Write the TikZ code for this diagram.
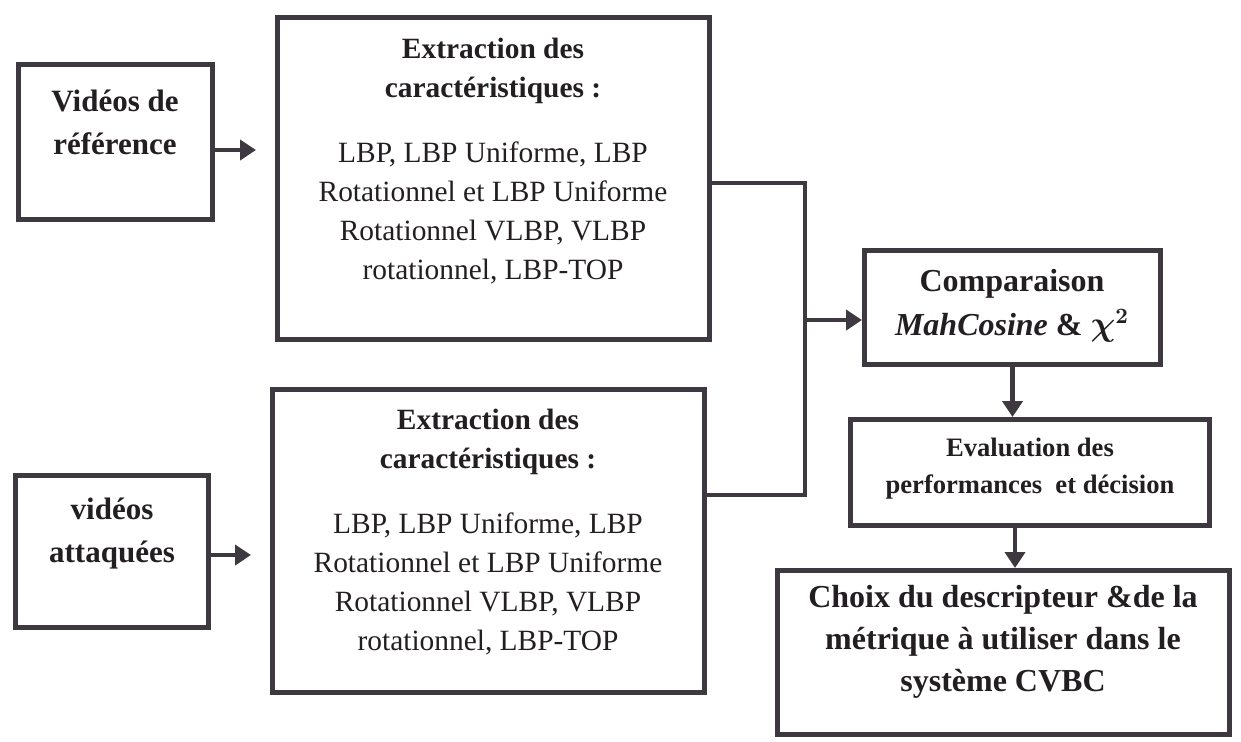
\documentclass[tikz,border=0pt]{standalone}
\usepackage{fontspec}
\setmainfont{Liberation Serif}
\usetikzlibrary{arrows.meta}
\definecolor{ink}{RGB}{62,56,64}
\definecolor{txt}{RGB}{35,30,33}
\begin{document}
\begin{tikzpicture}[x=0.5pt,y=-0.5pt,
  box/.style={draw=ink,line width=2.5pt,inner sep=0pt,fill=white},
  conn/.style={draw=ink,line width=2.3pt,line join=miter},
  arr/.style={conn,-{Triangle[length=8pt,width=10pt]}},
  lbl/.style={align=center,text=txt,inner sep=0pt}]
\fill[white] (0,0) rectangle (1241,741);
\useasboundingbox (0,0) rectangle (1241,741);

% boxes
\node[box,minimum width=97pt,minimum height=77.5pt] (ref) at (115.5,142) {};
\node[box,minimum width=96.5pt,minimum height=76pt] (att) at (112,551.5) {};
\node[box,minimum width=216pt,minimum height=161pt] (ex1) at (493.5,178.5) {};
\node[box,minimum width=216pt,minimum height=151.5pt] (ex2) at (488.5,541) {};
\node[box,minimum width=148pt,minimum height=57pt] (cmp) at (1012.5,307.5) {};
\node[box,minimum width=179.5pt,minimum height=53pt] (eval) at (1030,472.5) {};
\node[box,minimum width=226pt,minimum height=82pt] (cho) at (1003.5,652.5) {};

% texts
\node[lbl,font=\bfseries\fontsize{15.5}{21.5}\selectfont] (tref) at (115,122) {Vidéos de\\référence};
\node[lbl,font=\bfseries\fontsize{15.5}{21.5}\selectfont] (tatt) at (112,534) {vidéos\\attaquées};
\node[lbl,font=\fontsize{14.7}{19.5}\selectfont] (tex1) at (493,161)
  {\textbf{Extraction des}\\\textbf{caractéristiques :}\\[13pt]
   LBP, LBP Uniforme, LBP\\Rotationnel et LBP Uniforme\\Rotationnel VLBP, VLBP\\rotationnel, LBP-TOP};
\node[lbl,font=\fontsize{14.7}{19.5}\selectfont] (tex2) at (488,532)
  {\textbf{Extraction des}\\\textbf{caractéristiques :}\\[13pt]
   LBP, LBP Uniforme, LBP\\Rotationnel et LBP Uniforme\\Rotationnel VLBP, VLBP\\rotationnel, LBP-TOP};
\node[lbl,font=\bfseries\fontsize{16}{22}\selectfont] (tcmp) at (1012,306)
  {Comparaison\\\textit{MahCosine} \& {\boldmath$\chi^{2}$}};
\node[lbl,font=\bfseries\fontsize{13.3}{18.5}\selectfont] (teval) at (1030,469)
  {Evaluation des\\performances\ \ et décision};
\node[lbl,font=\bfseries\fontsize{16}{21}\selectfont] (tcho) at (1003,642)
  {Choix du descripteur \&de la\\métrique à utiliser dans le\\système CVBC};

% connectors
\coordinate (j) at (805,320);
\coordinate (j2) at (805,495);
\draw[arr,shorten >=9.5pt] ([yshift=-4pt]ref.east) -- ([yshift=-4pt]ref.east -| ex1.west);
\draw[arr,shorten >=9.5pt] ([yshift=-1.75pt]att.east) -- ([yshift=-1.75pt]att.east -| ex2.west);
\draw[conn] ([yshift=-2.25pt]ex1.east) -| (j2) -- (j2 -| ex2.east);
\draw[arr] (j) -- (j -| cmp.west);
\draw[arr] (cmp.south) -- (cmp.south |- eval.north);
\draw[arr] ([xshift=-7.5pt]eval.south) -- ([xshift=-7.5pt]eval.south |- cho.north);
\end{tikzpicture}
\end{document}
